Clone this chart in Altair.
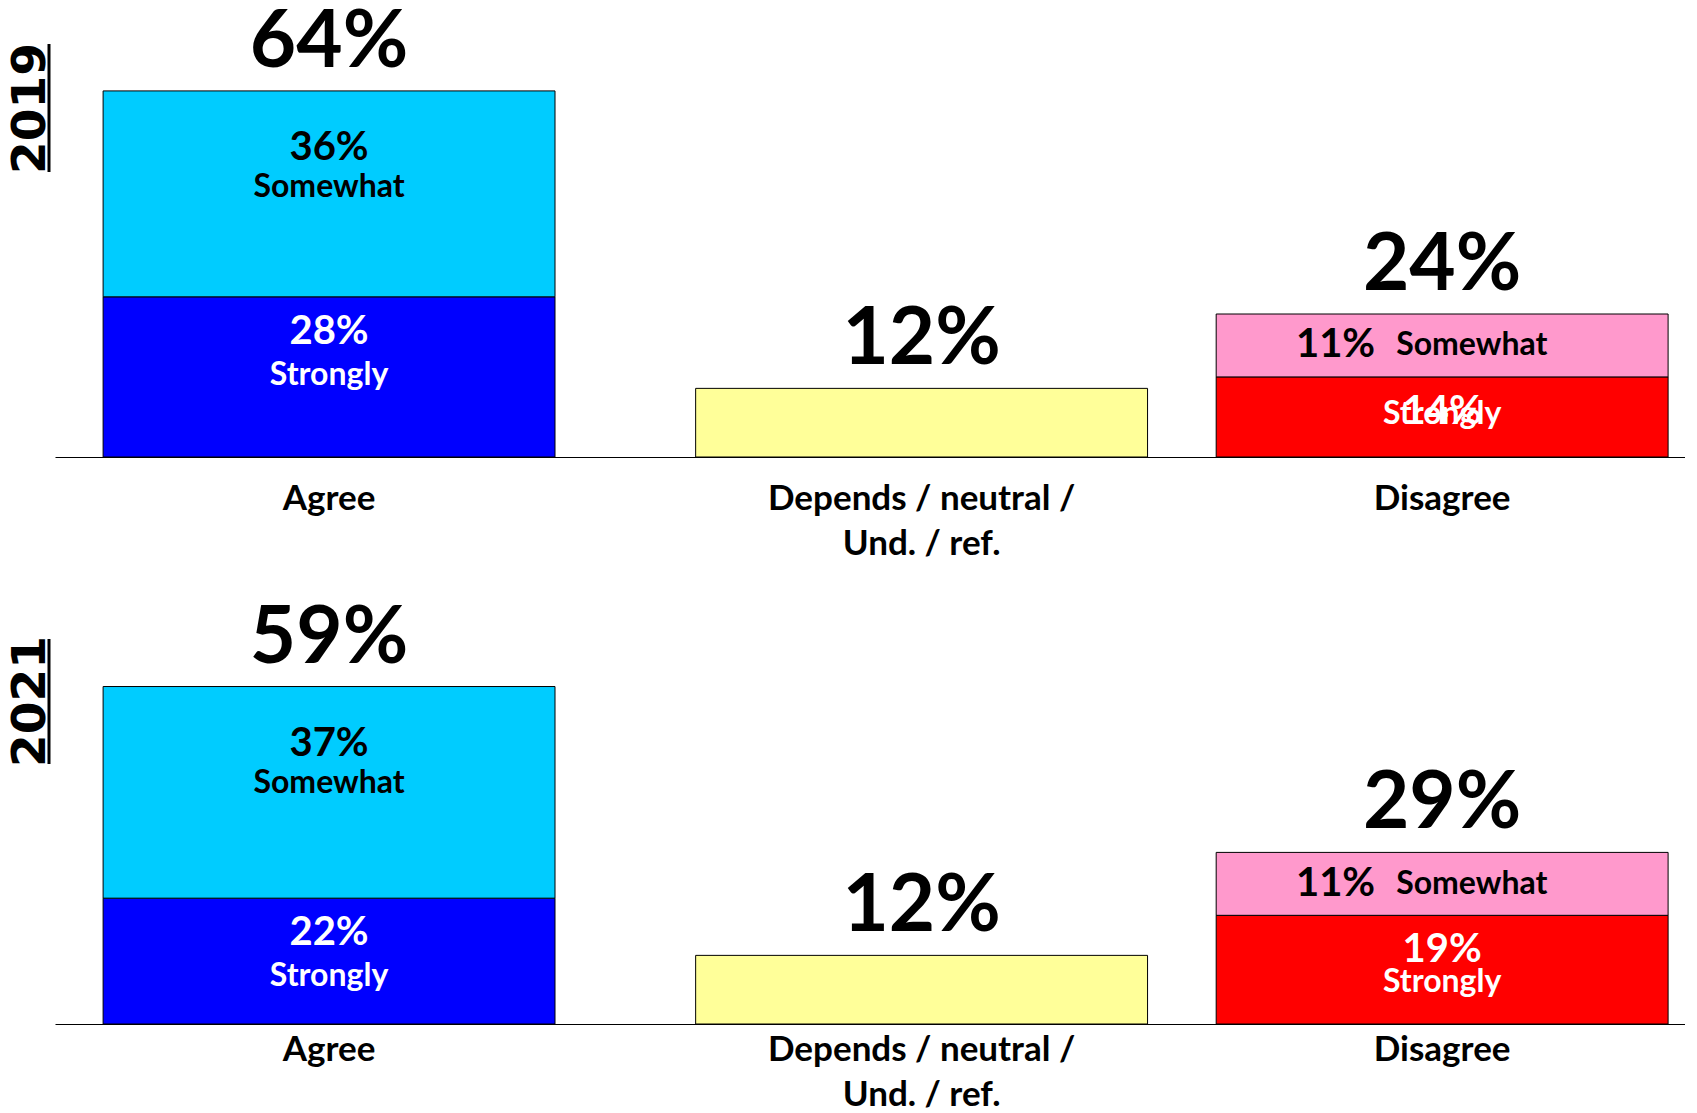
import altair as alt
import pandas as pd

years = ["2019", "2021"]
categories = ["Agree", "Depends / neutral /|Und. / ref.", "Disagree"]
agree_strongly = [28, 22]
agree_somewhat = [36, 37]
neutral = [12, 12]
disagree_strongly = [14, 19]
disagree_somewhat = [11, 11]
agree_total = [64, 59]
neutral_total = [12, 12]
disagree_total = [24, 29]

rows = []
for i, yr in enumerate(years):
    rows += [
        dict(year=yr, category=categories[0], segment="Strongly", key="Agree Strongly", order=1,
             value=agree_strongly[i], total=agree_total[i]),
        dict(year=yr, category=categories[0], segment="Somewhat", key="Agree Somewhat", order=2,
             value=agree_somewhat[i], total=agree_total[i]),
        dict(year=yr, category=categories[1], segment="Neutral", key="Neutral", order=1,
             value=neutral[i], total=neutral_total[i]),
        dict(year=yr, category=categories[2], segment="Strongly", key="Disagree Strongly", order=1,
             value=disagree_strongly[i], total=disagree_total[i]),
        dict(year=yr, category=categories[2], segment="Somewhat", key="Disagree Somewhat", order=2,
             value=disagree_somewhat[i], total=disagree_total[i]),
    ]
df = pd.DataFrame(rows)

keys = ["Agree Strongly", "Agree Somewhat", "Neutral", "Disagree Strongly", "Disagree Somewhat"]
key_colors = ["#0000FF", "#00CCFF", "#FFFF99", "#FF0000", "#FF99CC"]

W = 1630
PXU = 5.72  # pixels per percentage point
FONT = "Lato"
MID_SHIFT = 36  # the middle column sits a little right of centre in the original


def panel(yr, H, label_pad, title_y, ul, word_dy_dis):
    ymax = H / PXU
    base = alt.Chart(df).transform_filter(alt.datum.year == yr).transform_stack(
        stack="value", groupby=["category"], sort=[alt.SortField("order")], as_=["y0", "y1"]
    ).transform_calculate(
        pct="datum.value + '%'", mid="(datum.y0 + datum.y1) / 2",
        xo=f"datum.segment == 'Neutral' ? {MID_SHIFT} : 0",
    )
    xenc = alt.X(
        "category:N",
        sort=categories,
        scale=alt.Scale(domain=categories, paddingInner=0.188, paddingOuter=0.0584, align=0.74),
        axis=alt.Axis(
            title=None, labelExpr="split(datum.label, '|')", labelFont=FONT, labelFontSize=35,
            labelFontWeight="bold", labelColor="black", labelPadding=label_pad, labelLineHeight=45,
            labelBaseline="top", ticks=False, domainColor="black", domainWidth=1.2, labelAngle=0,
            labelLimit=0, grid=False,
            labelOffset={"condition": {"test": f"datum.label == '{categories[1]}'", "value": MID_SHIFT},
                         "value": 0},
        ),
    )
    xoff = alt.XOffset("xo:Q", scale=None)
    yscale = alt.Scale(domain=[0, ymax], nice=False, zero=True)
    yaxis = alt.Axis(
        title=yr, labels=False, ticks=False, domain=False, grid=False, titleFont="DejaVu Sans",
        titleFontWeight="bold", titleFontSize=47, titleColor="black", titleAngle=270, titleX=-11,
        titleY=title_y, titleAlign="center", titleBaseline="alphabetic",
    )

    def Y(field):
        return alt.Y(field, scale=yscale, axis=yaxis)

    bars = base.mark_bar(stroke="black", strokeWidth=1).encode(
        x=xenc, xOffset=xoff, y=Y("y0:Q"), y2="y1:Q",
        color=alt.Color("key:N", scale=alt.Scale(domain=keys, range=key_colors), legend=None),
    )

    tot = base.transform_aggregate(
        top="max(y1)", total="max(total)", groupby=["category"]
    ).transform_calculate(lbl="datum.total + '%'")
    tot_style = dict(dy=-24, baseline="alphabetic", fontSize=80, font=FONT, fontWeight="bold", color="black")
    totals_side = tot.transform_filter(alt.datum.category != categories[1]).mark_text(**tot_style).encode(
        x=xenc, y=Y("top:Q"), text="lbl:N")
    totals_mid = tot.transform_filter(alt.datum.category == categories[1]).mark_text(
        dx=MID_SHIFT, **tot_style).encode(x=xenc, y=Y("top:Q"), text="lbl:N")

    agree = base.transform_filter(alt.datum.category == "Agree")
    ag_som = agree.transform_filter(alt.datum.segment == "Somewhat")
    ag_str = agree.transform_filter(alt.datum.segment == "Strongly")
    dis = base.transform_filter(alt.datum.category == "Disagree")
    dis_str = dis.transform_filter(alt.datum.segment == "Strongly")
    dis_som = dis.transform_filter(alt.datum.segment == "Somewhat")

    def pct_layer(src, dy, col):
        return src.mark_text(dy=dy, baseline="middle", fontSize=40, font=FONT, fontWeight="bold",
                             color=col).encode(x=xenc, y=Y("y1:Q"), text="pct:N")

    def word_layer(src, dy, col):
        return src.mark_text(dy=dy, baseline="middle", fontSize=32, font=FONT, fontWeight="bold",
                             color=col).encode(x=xenc, y=Y("y1:Q"), text="segment:N")

    layers = [
        bars,
        totals_side,
        totals_mid,
        pct_layer(ag_som, 57, "black"),
        word_layer(ag_som, 96, "black"),
        pct_layer(ag_str, 35, "white"),
        word_layer(ag_str, 78, "white"),
        pct_layer(dis_str, 35, "white"),
        word_layer(dis_str, word_dy_dis, "white"),
        dis_som.mark_text(dx=-67, align="right", baseline="middle", fontSize=40, font=FONT,
                          fontWeight="bold", color="black").encode(x=xenc, y=Y("mid:Q"), text="pct:N"),
        dis_som.mark_text(dx=-46, align="left", baseline="middle", fontSize=32, font=FONT,
                          fontWeight="bold", color="black").encode(x=xenc, y=Y("mid:Q"), text="segment:N"),
        alt.Chart(pd.DataFrame({"u": [0]})).mark_rule(strokeWidth=3, color="black").encode(
            x=alt.value(-6), y=alt.value(ul[0]), y2=alt.value(ul[1])),
    ]
    return alt.layer(*layers).properties(width=W, height=H)


p1 = panel("2019", 448, 24, 99, (35, 163), 37)
p2 = panel("2021", 450, 8, 127, (65, 190), 67)

chart = alt.vconcat(p1, p2, spacing=13).properties(
    padding={"left": -3, "top": -6, "right": 0, "bottom": 0}
).configure_view(stroke=None)

chart.save("out.html", embed_options={"renderer": "svg", "actions": False})
